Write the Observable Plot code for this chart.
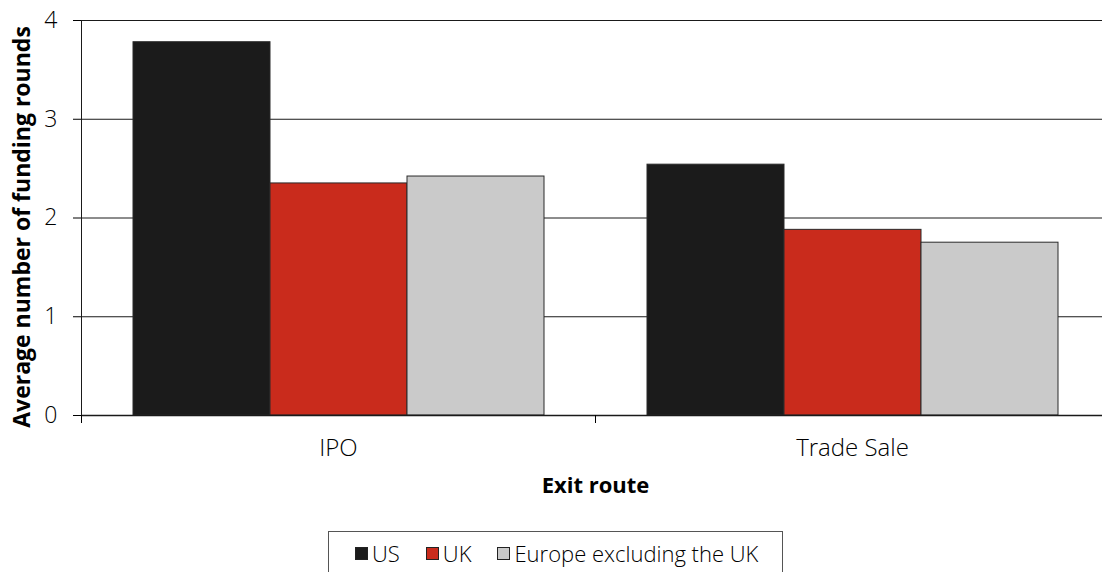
<!DOCTYPE html>
<html><head><meta charset="utf-8">
<script src="https://cdn.jsdelivr.net/npm/d3@7"></script>
<script src="https://cdn.jsdelivr.net/npm/@observablehq/plot@0.6"></script>
<style>
html,body{margin:0;padding:0;background:#fff;overflow:hidden;width:1102px;height:572px;}
#chart svg{display:block;max-width:none !important;}
.legend{position:absolute;left:328px;top:531px;width:455px;box-sizing:border-box;height:44px;border:1px solid #555;font-family:"Open Sans",sans-serif;font-size:22px;font-weight:300;color:#000;display:flex;align-items:center;padding-left:26px;white-space:nowrap;overflow:visible;}
.legend .item{display:flex;align-items:center;margin-right:26px;flex-shrink:0;}
.legend .item:last-child{margin-right:0;}
.legend .sw{width:11px;height:11px;border:1px solid #222;margin-right:4px;flex-shrink:0;}
</style></head><body><div id="chart"></div><div class="legend" id="legend"></div>
<script>
const categories = ["IPO", "Trade Sale"];
const seriesNames = ["US", "UK", "Europe excluding the UK"];
const usValues = [3.78, 2.54];
const ukValues = [2.35, 1.88];
const europeValues = [2.42, 1.75];
const seriesColors = ["#1b1b1b", "#c92b1c", "#cacaca"];
const yTicks = [0, 1, 2, 3, 4];
const xTitle = "Exit route";
const yTitle = "Average number of funding rounds";

const valuesBySeries = [usValues, ukValues, europeValues];
const data = categories.flatMap((c, i) => seriesNames.map((s, j) => ({category: c, series: s, value: valuesBySeries[j][i]})));

const W = 1110, H = 515, ML = 81, MR = 1, MT = 20, MB = 100;
const halfBand = (W - ML - MR) / categories.length / 2;

const chart = Plot.plot({
  width: W, height: H, marginLeft: ML, marginRight: MR, marginTop: MT, marginBottom: MB,
  style: {fontFamily: "'Open Sans', sans-serif", background: "#fff", color: "#000", overflow: "visible", maxWidth: "none"},
  fx: {domain: categories, padding: 0, axis: null, label: null},
  x: {domain: seriesNames, paddingInner: 0, paddingOuter: 0.375, axis: null},
  y: {domain: [0, 4], axis: null},
  color: {domain: seriesNames, range: seriesColors},
  marks: [
    Plot.gridY(yTicks, {stroke: "#1a1a1a", strokeOpacity: 1, strokeWidth: 1}),
    Plot.barY(data, {fx: "category", x: "series", y: "value", fill: "series", stroke: "#2a2a2a", strokeWidth: 1}),
    Plot.ruleY([0], {stroke: "#1a1a1a", strokeWidth: 1.5}),
    Plot.frame({anchor: "left", facetAnchor: "left", stroke: "#1a1a1a"}),
    Plot.axisY(yTicks, {tickSize: 8, tickPadding: 16, fontSize: 23, fontWeight: 300, tickFormat: d => String(d), label: null}),
    Plot.axisFx({anchor: "bottom", tickSize: 8, tickFormat: () => "", dx: -halfBand, label: null}),
    Plot.axisFx({anchor: "bottom", tickSize: 0, tickPadding: 23, fontSize: 24, fontWeight: 300, label: null}),
    Plot.text([yTitle], {text: d => d, frameAnchor: "left", facetAnchor: "left", rotate: -90, dx: -59, dy: 9, fontWeight: "bold", fontSize: 23, textAnchor: "middle"}),
    Plot.text([xTitle], {text: d => d, frameAnchor: "bottom-right", facetAnchor: "left", dy: 77, fontWeight: "bold", fontSize: 22, textAnchor: "middle"})
  ]
});
document.getElementById("chart").appendChild(chart);

const legend = document.getElementById("legend");
seriesNames.forEach((s, i) => {
  const item = document.createElement("div");
  item.className = "item";
  const sw = document.createElement("div");
  sw.className = "sw";
  sw.style.background = seriesColors[i];
  const t = document.createElement("span");
  t.textContent = s;
  item.appendChild(sw); item.appendChild(t);
  legend.appendChild(item);
});
</script></body></html>
